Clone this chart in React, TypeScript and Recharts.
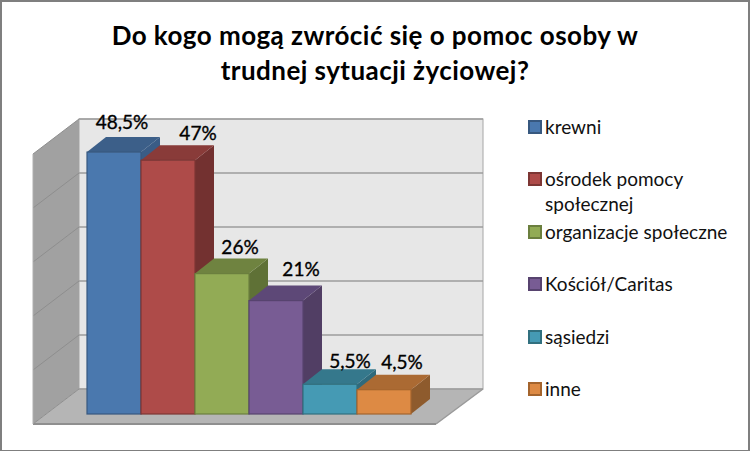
import { BarChart, Bar, XAxis, YAxis, Legend, LabelList, usePlotArea } from 'recharts'

const CATEGORIES = ['krewni', 'ośrodek pomocy\nspołecznej', 'organizacje społeczne', 'Kościół/Caritas', 'sąsiedzi', 'inne']
const VALUES = [48.5, 47, 26, 21, 5.5, 4.5]
const TICKS = [0, 10, 20, 30, 40, 50]

const FRONT = ['#4a78ae', '#ae4b49', '#92ab55', '#785c94', '#459ab4', '#dd8a44']
const TOP = ['#3c5f89', '#893b39', '#6f8340', '#5d4877', '#35788c', '#ab6a33']
const SIDE = ['#3a5c86', '#733130', '#5f7136', '#513e64', '#2f6a7c', '#8e5b2d']
const EDGE = ['#37587f', '#7d3634', '#6b7f3e', '#57436f', '#31707f', '#a4642d']

// labels sit a bit off the bar centre in the original, nudged by hand
const LABEL_DX = [8, 30, 18, 25, 20, 18]
const LABEL_DY = [-30, -27, -27, -32, -23, -28]
const LEGEND_ROW = 52.4

const DEPTH_X = 19
const DEPTH_Y = 15
const W = 750
const H = 451

const row: Record<string, any> = { name: '' }
CATEGORIES.forEach((c, i) => { row[c] = VALUES[i] })
const data = [row]

function Walls() {
  const plot = usePlotArea()
  if (!plot) return null
  const { x, y, width, height } = plot
  const bottom = y + height
  const perTick = height / (TICKS.length - 1)
  const backL = x - 8
  const backR = x + width + 73
  const frontL = x - 54
  const frontR = x + width + 26
  return (
    <g>
      <rect x={backL} y={y - 25} width={backR - backL} height={height} fill="#e7e7e7" stroke="#a6a6a6" strokeWidth={1} />
      <polygon points={`${frontL},${y + 10} ${backL},${y - 25} ${backL},${bottom - 25} ${frontL},${bottom + 10}`} fill="#a1a1a1" />
      <polygon points={`${frontL},${bottom + 10} ${backL},${bottom - 25} ${backR},${bottom - 25} ${frontR},${bottom + 10}`} fill="#b5b5b5" />
      {TICKS.map((t, i) => {
        const off = perTick * i
        return (
          <g key={t}>
            <line x1={backL} x2={backR} y1={bottom - 25 - off} y2={bottom - 25 - off} stroke="#9d9d9d" strokeWidth={1.5} />
            <line x1={frontL} x2={backL} y1={bottom + 10 - off} y2={bottom - 25 - off} stroke="#8e8e8e" strokeWidth={1} />
          </g>
        )
      })}
      <line x1={frontL} x2={frontR} y1={bottom + 10} y2={bottom + 10} stroke="#8f8f8f" strokeWidth={2} />
      <line x1={frontR} x2={backR} y1={bottom + 10} y2={bottom - 25} stroke="#9a9a9a" strokeWidth={1.5} />
      <line x1={frontL} x2={frontL} y1={y + 10} y2={bottom + 10} stroke="#b0b0b0" strokeWidth={1} />
    </g>
  )
}

function Block(props: any) {
  const { x, y, width, height, idx } = props
  const r = x + width
  const b = y + height
  return (
    <g>
      <polygon points={`${r},${y} ${r + DEPTH_X},${y - DEPTH_Y} ${r + DEPTH_X},${b - DEPTH_Y} ${r},${b}`} fill={SIDE[idx]} />
      <polygon points={`${x},${y} ${x + DEPTH_X},${y - DEPTH_Y} ${r + DEPTH_X},${y - DEPTH_Y} ${r},${y}`} fill={TOP[idx]} />
      <rect x={x} y={y} width={width} height={height} fill={FRONT[idx]} stroke={EDGE[idx]} strokeWidth={1.2} />
    </g>
  )
}

function ValueLabel(props: any) {
  const { x, y, width, value, idx } = props
  return (
    <text
      x={x + width / 2 + LABEL_DX[idx]}
      y={y + LABEL_DY[idx] + 7}
      textAnchor="middle"
      fontFamily="Lato"
      fontSize={19}
      fill="#000"
      stroke="#000"
      strokeWidth={0.35}
    >
      {String(value).replace('.', ',')}%
    </text>
  )
}

function LegendBox({ payload }: any) {
  return (
    <div style={{ position: 'relative', width: 0, height: 0 }}>
      {(payload ?? []).map((p: any, i: number) => (
        <div
          key={p.value}
          style={{ position: 'absolute', left: 528, top: 127 + LEGEND_ROW * i - 7, display: 'flex', fontFamily: 'Lato', fontSize: 19, lineHeight: '25px', color: '#111' }}
        >
          <span style={{ width: 10, height: 10, flex: 'none', background: FRONT[i], border: `2px solid ${EDGE[i]}`, display: 'block' }} />
          <span style={{ marginLeft: 3, marginTop: -6, whiteSpace: 'pre' }}>{p.value}</span>
        </div>
      ))}
    </div>
  )
}

export default function App() {
  return (
    <div style={{ position: 'fixed', left: 0, top: 0, width: W, height: H, background: '#fff', fontFamily: 'Lato' }}>
      <BarChart
        width={W}
        height={H}
        data={data}
        margin={{ top: 144, left: 87, right: 340, bottom: 37 }}
        barCategoryGap={0}
        barGap={0}
      >
        <XAxis dataKey="name" hide />
        <YAxis domain={[0, 50]} ticks={TICKS} hide />
        <Walls />
        {CATEGORIES.map((c, i) => (
          <Bar
            key={c}
            dataKey={c}
            name={c}
            fill={FRONT[i]}
            isAnimationActive={false}
            shape={(p: any) => <Block {...p} idx={i} />}
          >
            <LabelList dataKey={c} content={(p: any) => <ValueLabel {...p} idx={i} />} />
          </Bar>
        ))}
        <Legend
          content={<LegendBox />}
          itemSorter={null}
          layout="vertical"
          align="center"
          verticalAlign="middle"
          wrapperStyle={{ position: 'absolute', left: 0, top: 0, width: 0, height: 0, bottom: 'auto' }}
        />
      </BarChart>
      <div
        style={{
          position: 'absolute', left: 0, top: 18, width: W, textAlign: 'center',
          fontFamily: 'Lato', fontWeight: 700, fontSize: 26, letterSpacing: 0.45, lineHeight: '35px', color: '#000',
        }}
      >
        Do kogo mogą zwrócić się o pomoc osoby w<br />trudnej sytuacji życiowej?
      </div>
      <div style={{ position: 'absolute', inset: 0, borderStyle: 'solid', borderColor: '#7f7f7f', borderWidth: '2px 2px 1px 2px', pointerEvents: 'none' }} />
    </div>
  )
}
